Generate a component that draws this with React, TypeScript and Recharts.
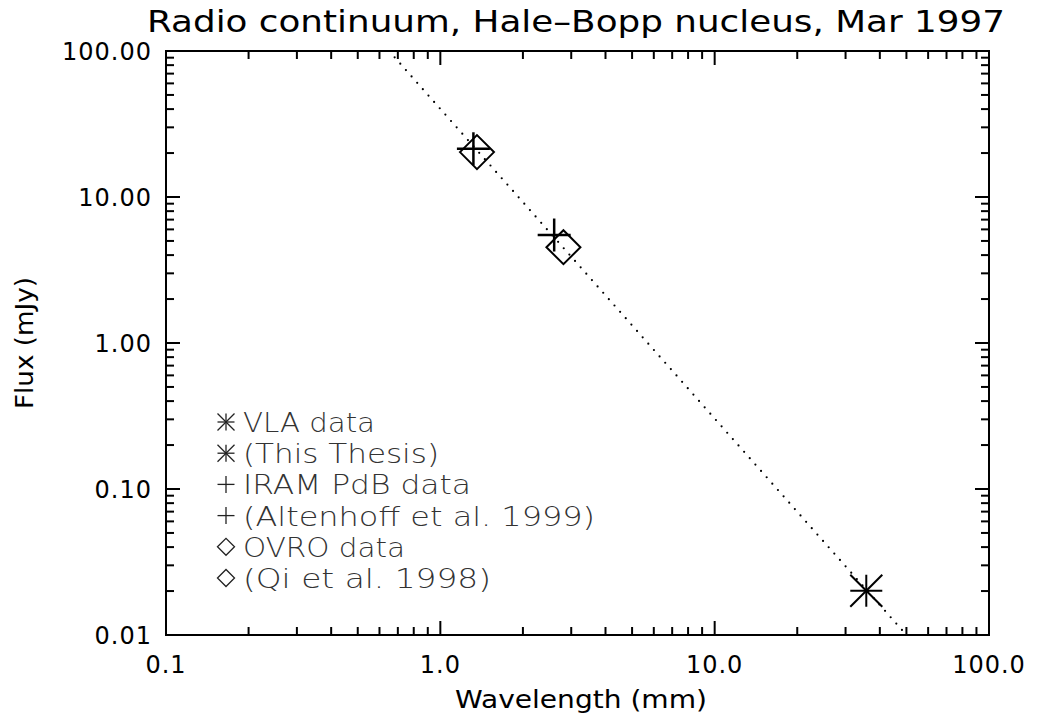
import React from 'react';
import { ComposedChart, Scatter, Line, XAxis, YAxis, Legend, Customized } from 'recharts';

// VLA (this thesis)
const vlaWavelength = [35.7];
const vlaFlux = [0.0201];
// IRAM PdB (Altenhoff et al. 1999)
const iramWavelength = [1.32, 2.6];
const iramFlux = [21.4, 5.49];
// OVRO (Qi et al. 1998)
const ovroWavelength = [1.36, 2.81];
const ovroFlux = [20.3, 4.53];
// power-law fit, dotted
const fitWavelength = [0.65, 50];
const fitFlux = [100, 0.01];

const xMajor = [0.1, 1, 10, 100];
const yMajor = [0.01, 0.1, 1, 10, 100];
const minorSteps = [2, 3, 4, 5, 6, 7, 8, 9];

const legendRows = [
    { mark: 'asterisk', text: 'VLA data', len: 132 },
    { mark: 'asterisk', text: '(This Thesis)', len: 196 },
    { mark: 'plus', text: 'IRAM PdB data', len: 228 },
    { mark: 'plus', text: '(Altenhoff et al. 1999)', len: 352 },
    { mark: 'diamond', text: 'OVRO data', len: 162 },
    { mark: 'diamond', text: '(Qi et al. 1998)', len: 248 },
];

const pairs = (xs: number[], ys: number[]) => xs.map((x, i) => ({ x, y: ys[i] }));
const minors = (majors: number[]) =>
    majors.slice(0, -1).flatMap((m) => minorSteps.map((s) => +(m * s).toPrecision(3)));

const vlaData = pairs(vlaWavelength, vlaFlux);
const iramData = pairs(iramWavelength, iramFlux);
const ovroData = pairs(ovroWavelength, ovroFlux);
const fitData = pairs(fitWavelength, fitFlux);

const FONT = "'DejaVu Sans', 'Liberation Sans', sans-serif";
const INK = '#000';

const Asterisk = ({ cx, cy, r, w, color = INK }: any) => (
    <g stroke={color} strokeWidth={w}>
        <line x1={cx - r} y1={cy} x2={cx + r} y2={cy} />
        <line x1={cx} y1={cy - r} x2={cx} y2={cy + r} />
        <line x1={cx - r} y1={cy - r} x2={cx + r} y2={cy + r} />
        <line x1={cx - r} y1={cy + r} x2={cx + r} y2={cy - r} />
    </g>
);

const Plus = ({ cx, cy, r, w, color = INK }: any) => (
    <g stroke={color} strokeWidth={w}>
        <line x1={cx - r} y1={cy} x2={cx + r} y2={cy} />
        <line x1={cx} y1={cy - r} x2={cx} y2={cy + r} />
    </g>
);

const Diamond = ({ cx, cy, r, w, color = INK }: any) => (
    <polygon
        points={`${cx - r},${cy} ${cx},${cy - r} ${cx + r},${cy} ${cx},${cy + r}`}
        fill="none"
        stroke={color}
        strokeWidth={w}
    />
);

const marks: Record<string, any> = { asterisk: Asterisk, plus: Plus, diamond: Diamond };

const renderLegend = () => (
    <svg width={420} height={200}>
        {legendRows.map((row, i) => {
            const Mark = marks[row.mark];
            const y = 17 + i * 31.2;
            return (
                <g key={i}>
                    <Mark cx={16} cy={y} r={8.5} w={1.3} color="#222" />
                    <text
                        x={33}
                        y={y + 10}
                        fontSize={27}
                        fontFamily={FONT}
                        fontWeight={200}
                        fill="#333"
                        textLength={row.len}
                        lengthAdjust="spacingAndGlyphs"
                    >
                        {row.text}
                    </text>
                </g>
            );
        })}
    </svg>
);

const Titles = () => (
    <g fontFamily={FONT} fill={INK}>
        <text x={147} y={32} fontSize={30} textLength={858} lengthAdjust="spacingAndGlyphs">
            Radio continuum, Hale–Bopp nucleus, Mar 1997
        </text>
        <text x={455} y={708} fontSize={25} textLength={252} lengthAdjust="spacingAndGlyphs">
            Wavelength (mm)
        </text>
        <text
            transform="translate(33, 343) rotate(-90)"
            textAnchor="middle"
            fontSize={25}
            textLength={132}
            lengthAdjust="spacingAndGlyphs"
        >
            Flux (mJy)
        </text>
    </g>
);

const frame = { stroke: INK, strokeWidth: 2, strokeLinecap: 'square' as const };
const tickStroke = { stroke: INK, strokeWidth: 2 };
const noLabel = () => <g />;
const labelStyle = { fontSize: 24, fill: INK, fontFamily: FONT, letterSpacing: 1 };

const xCommon = {
    type: 'number' as const,
    scale: 'log' as const,
    domain: [0.1, 100],
    allowDataOverflow: true,
    dataKey: 'x',
    interval: 0 as const,
};
const yCommon = {
    type: 'number' as const,
    scale: 'log' as const,
    domain: [0.01, 100],
    allowDataOverflow: true,
    dataKey: 'y',
    interval: 0 as const,
};

// mirrored axes: ticks point into the plot; 1px box so they still render
const mirrorX = { ...xCommon, mirror: true, height: 1, tick: noLabel, tickLine: tickStroke };
const mirrorY = { ...yCommon, mirror: true, width: 1, tick: noLabel, tickLine: tickStroke };

export default function App() {
    return (
        <div style={{ position: 'absolute', left: 0, top: 0, width: 1037, height: 721, background: '#fff' }}>
            <ComposedChart width={1037} height={721} margin={{ top: 51, right: 48, bottom: 46, left: 106 }}>
                {/* main axes: labels + bottom/left frame */}
                <XAxis
                    {...xCommon}
                    xAxisId="main"
                    height={40}
                    ticks={xMajor}
                    tickFormatter={(v: number) => v.toFixed(1)}
                    tick={labelStyle}
                    tickLine={false}
                    tickSize={0}
                    tickMargin={21}
                    axisLine={frame}
                />
                <YAxis
                    {...yCommon}
                    yAxisId="main"
                    width={60}
                    ticks={yMajor}
                    tickFormatter={(v: number) => v.toFixed(2)}
                    tick={labelStyle}
                    tickLine={false}
                    tickSize={0}
                    tickMargin={14}
                    axisLine={frame}
                />

                {/* inward tick marks on all four sides */}
                <XAxis {...mirrorX} xAxisId="bMaj" ticks={[1, 10]} tickSize={14} axisLine={false} />
                <XAxis {...mirrorX} xAxisId="bMin" ticks={minors(xMajor)} tickSize={7} axisLine={false} />
                <XAxis {...mirrorX} xAxisId="tMaj" orientation="top" ticks={[1, 10]} tickSize={14} axisLine={frame} />
                <XAxis {...mirrorX} xAxisId="tMin" orientation="top" ticks={minors(xMajor)} tickSize={7} axisLine={false} />
                <YAxis {...mirrorY} yAxisId="lMaj" ticks={[0.1, 1, 10]} tickSize={14} axisLine={false} />
                <YAxis {...mirrorY} yAxisId="lMin" ticks={minors(yMajor)} tickSize={7} axisLine={false} />
                <YAxis {...mirrorY} yAxisId="rMaj" orientation="right" ticks={[0.1, 1, 10]} tickSize={14} axisLine={frame} />
                <YAxis {...mirrorY} yAxisId="rMin" orientation="right" ticks={minors(yMajor)} tickSize={7} axisLine={false} />

                <Line
                    xAxisId="main"
                    yAxisId="main"
                    data={fitData}
                    dataKey="y"
                    stroke={INK}
                    strokeWidth={2.2}
                    strokeDasharray="0 8.5"
                    strokeLinecap="round"
                    dot={false}
                    activeDot={false}
                    isAnimationActive={false}
                />
                <Scatter
                    xAxisId="main"
                    yAxisId="main"
                    data={ovroData}
                    shape={(p: any) => <Diamond cx={p.cx} cy={p.cy} r={17} w={2} />}
                    isAnimationActive={false}
                />
                <Scatter
                    xAxisId="main"
                    yAxisId="main"
                    data={iramData}
                    shape={(p: any) => <Plus cx={p.cx} cy={p.cy} r={16.5} w={2.5} />}
                    isAnimationActive={false}
                />
                <Scatter
                    xAxisId="main"
                    yAxisId="main"
                    data={vlaData}
                    shape={(p: any) => <Asterisk cx={p.cx} cy={p.cy} r={16} w={2} />}
                    isAnimationActive={false}
                />

                <Legend
                    content={renderLegend}
                    layout="horizontal"
                    verticalAlign="middle"
                    align="center"
                    wrapperStyle={{ left: 210, top: 405, width: 420, height: 200 }}
                />
                <Customized component={<Titles />} />
            </ComposedChart>
        </div>
    );
}
